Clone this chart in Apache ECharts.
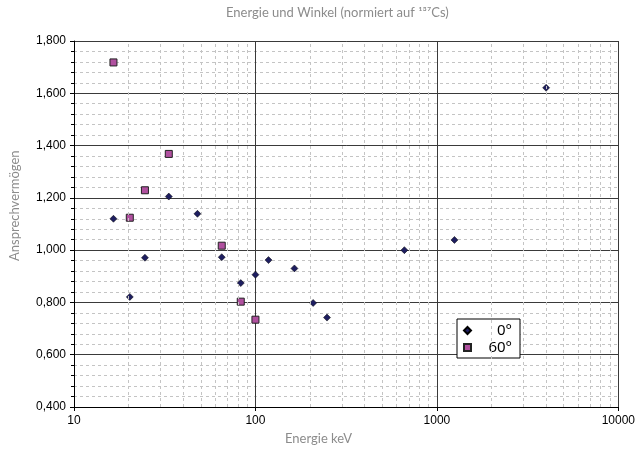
<!DOCTYPE html>
<html>
<head>
<meta charset="utf-8">
<script src="https://cdn.jsdelivr.net/npm/echarts@6/dist/echarts.min.js"></script>
<style>
  html, body { margin: 0; padding: 0; background: #fff; }
  #chart-container { width: 638px; height: 456px; }
</style>
</head>
<body>
<div id="chart-container"></div>
<script>
// Energie (keV) und Ansprechvermögen, normiert auf 137Cs
const energy0 = [16.5, 20.3, 24.6, 33.3, 47.9, 65.2, 83, 100, 118, 164, 208, 248, 662, 1250, 4000];
const resp0 = [1.120, 0.821, 0.971, 1.205, 1.139, 0.973, 0.874, 0.906, 0.962, 0.930, 0.798, 0.742, 1.000, 1.039, 1.621];
const energy60 = [16.5, 20.3, 24.6, 33.3, 65.2, 83, 100];
const resp60 = [1.718, 1.124, 1.229, 1.368, 1.017, 0.803, 0.734];
const seriesNames = ['0°', '60°'];
const minorX = [20, 30, 40, 50, 60, 70, 80, 90, 200, 300, 400, 500, 600, 700, 800, 900,
  2000, 3000, 4000, 5000, 6000, 7000, 8000, 9000];

const chart = echarts.init(document.getElementById('chart-container'), null, { renderer: 'canvas' });

const labelFont = { color: '#000', fontFamily: 'Liberation Sans', fontSize: 12 };
const nameFont = { fill: '#8c8c8c', fontFamily: 'Lato', fontSize: 13 };
const dash = [3, 3];

const option = {
  animation: false,
  backgroundColor: '#fff',
  grid: { left: 74, right: 19, top: 41, bottom: 49 },
  graphic: [
    { type: 'text', left: 226, top: 6, style: Object.assign({ text: 'Energie und Winkel (normiert auf ¹³⁷Cs)' }, nameFont) },
    { type: 'text', left: 285, top: 432, style: Object.assign({ text: 'Energie keV' }, nameFont) },
    { type: 'text', x: 8, y: 261, rotation: Math.PI / 2, style: Object.assign({ text: 'Ansprechvermögen' }, nameFont) }
  ],
  legend: {
    data: seriesNames,
    orient: 'vertical',
    left: 457,
    top: 319,
    padding: [4, 8, 3, 6],
    itemGap: 2,
    itemWidth: 7,
    itemHeight: 7,
    backgroundColor: '#fff',
    borderColor: '#000',
    borderWidth: 1,
    borderRadius: 0,
    formatter: name => '{t|' + name + '}',
    textStyle: {
      color: '#000',
      rich: { t: { fontFamily: 'Noto Sans', fontSize: 15, width: 36, align: 'right', color: '#000' } }
    }
  },
  xAxis: {
    type: 'log',
    logBase: 10,
    min: 10,
    max: 10000,
    axisLine: { show: true, onZero: false, lineStyle: { color: '#000', width: 1 } },
    axisTick: { show: true, length: 4, lineStyle: { color: '#000' } },
    axisLabel: Object.assign({ margin: 8, formatter: v => String(Math.round(v)) }, labelFont),
    splitLine: { show: true, lineStyle: { color: '#3a3a3a', width: 1 } }
  },
  yAxis: {
    type: 'value',
    min: 0.4,
    max: 1.8,
    interval: 0.2,
    axisLine: { show: true, lineStyle: { color: '#000', width: 1 } },
    axisTick: { show: true, length: 4, lineStyle: { color: '#000' } },
    minorTick: { show: true, splitNumber: 5, length: 3, lineStyle: { color: '#000' } },
    axisLabel: Object.assign({ margin: 8, formatter: v => v.toFixed(3).replace('.', ',') }, labelFont),
    splitLine: { show: true, lineStyle: { color: '#3a3a3a', width: 1 } },
    minorSplitLine: { show: true, lineStyle: { color: '#c4c4c4', width: 1, type: dash } }
  },
  series: [
    {
      type: 'scatter',
      name: 'minor',
      data: [],
      z: 1,
      markLine: {
        silent: true,
        symbol: 'none',
        label: { show: false },
        lineStyle: { color: '#c4c4c4', width: 1, type: dash },
        data: minorX.map(v => ({ xAxis: v }))
      }
    },
    {
      type: 'scatter',
      name: seriesNames[0],
      z: 3,
      symbol: 'diamond',
      symbolSize: 7,
      itemStyle: { color: '#1e1e60', borderColor: '#000', borderWidth: 0.5, opacity: 1 },
      data: energy0.map((e, i) => [e, resp0[i]])
    },
    {
      type: 'scatter',
      name: seriesNames[1],
      z: 3,
      symbol: 'rect',
      symbolSize: 7,
      itemStyle: { color: '#b0509f', borderColor: '#222', borderWidth: 1, opacity: 1 },
      data: energy60.map((e, i) => [e, resp60[i]])
    }
  ]
};

chart.setOption(option);
</script>
</body>
</html>
